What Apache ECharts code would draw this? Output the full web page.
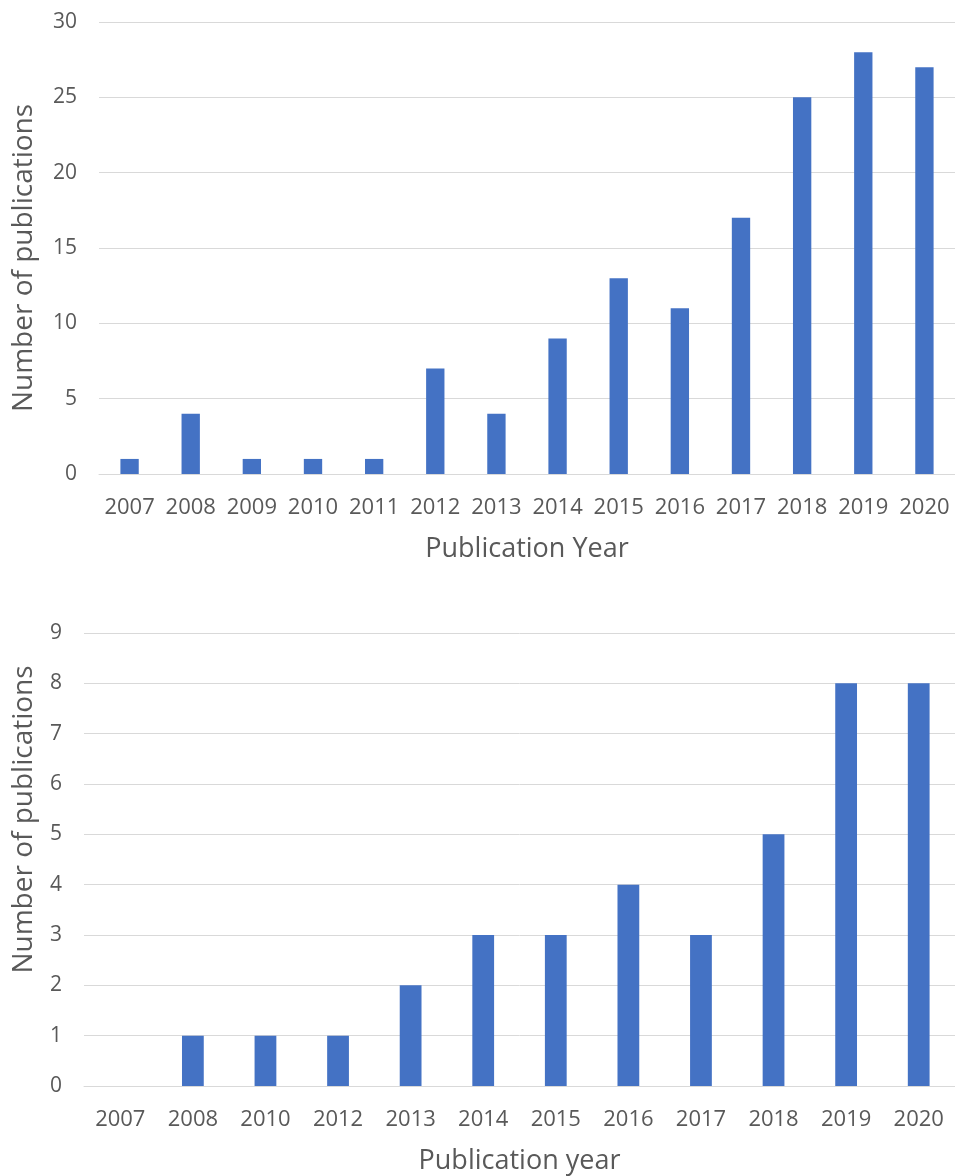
<!DOCTYPE html>
<html>
<head>
<meta charset="utf-8">
<script src="https://cdn.jsdelivr.net/npm/echarts@6/dist/echarts.min.js"></script>
<style>
html,body{margin:0;padding:0;background:#fff;}
#c{width:955px;height:1176px;}
</style>
</head>
<body>
<div id="c"></div>
<script>
// Top chart data
const yearsTop = ['2007','2008','2009','2010','2011','2012','2013','2014','2015','2016','2017','2018','2019','2020'];
const valuesTop = [1,4,1,1,1,7,4,9,13,11,17,25,28,27];
// Bottom chart data
const yearsBottom = ['2007','2008','2010','2012','2013','2014','2015','2016','2017','2018','2019','2020'];
const valuesBottom = [0,1,1,1,2,3,3,4,3,5,8,8];

const FONT = '"Open Sans", "Noto Sans", sans-serif';
const TXT = '#595959';
const GRID = '#d9d9d9';
const BAR = '#4472C4';

function xAxisCfg(idx, data, name){
  return {
    type:'category', gridIndex: idx, data: data,
    axisTick:{show:false},
    axisLine:{show:true, lineStyle:{color:GRID, width:1}},
    axisLabel:{color:TXT, fontSize:22, fontFamily:FONT, margin:23, interval:0},
    name:name, nameLocation:'middle', nameGap:62,
    nameTextStyle:{color:TXT, fontSize:27, fontFamily:FONT}
  };
}
function yAxisCfg(idx, max, interval, gap, pad){
  return {
    type:'value', gridIndex: idx, min:0, max:max, interval:interval,
    axisTick:{show:false}, axisLine:{show:false},
    splitLine:{show:true, lineStyle:{color:GRID, width:1}},
    axisLabel:{color:TXT, fontSize:21, fontFamily:FONT, margin:22},
    name:'Number of publications', nameLocation:'middle', nameGap:gap,
    nameTextStyle:{color:TXT, fontSize:28, fontFamily:FONT, padding:pad}
  };
}

const chart = echarts.init(document.getElementById('c'), null, {renderer:'canvas'});
chart.setOption({
  backgroundColor:'#fff',
  animation:false,
  grid:[
    {left:99, top:22, width:857, height:452},
    {left:84, top:633, width:872, height:453}
  ],
  xAxis:[ xAxisCfg(0, yearsTop, 'Publication Year'), xAxisCfg(1, yearsBottom, 'Publication year') ],
  yAxis:[ yAxisCfg(0, 30, 5, 61, [0,20,0,0]), yAxisCfg(1, 9, 1, 46, [0,0,0,80]) ],
  series:[
    {type:'bar', xAxisIndex:0, yAxisIndex:0, data:valuesTop, barWidth:'30%', itemStyle:{color:BAR}},
    {type:'bar', xAxisIndex:1, yAxisIndex:1, data:valuesBottom, barWidth:'30%', itemStyle:{color:BAR}}
  ]
});
</script>
</body>
</html>
